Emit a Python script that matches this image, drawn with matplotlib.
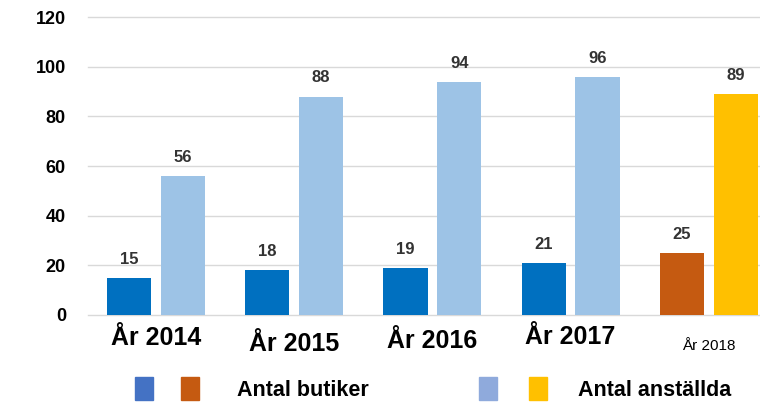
import numpy as np
import matplotlib.pyplot as plt
from matplotlib.patches import Rectangle

plt.rcParams['font.family'] = ['Liberation Sans', 'DejaVu Sans']

# Data
years = ['År 2014', 'År 2015', 'År 2016', 'År 2017', 'År 2018']
butiker = [15, 18, 19, 21, 25]
anstallda = [56, 88, 94, 96, 89]
yticks = [0, 20, 40, 60, 80, 100, 120]

# colours: 2014-2017 in blue, 2018 in orange/yellow
col_but = ['#0070C0'] * 4 + ['#C55A11']
col_ans = ['#9DC3E6'] * 4 + ['#FFC000']

fig = plt.figure(figsize=(7.6, 4.08), dpi=100)
ax = fig.add_axes([0.116, 0.228, 0.884, 0.730])

x = np.arange(len(years))
w = 0.32
off = 0.195
b1 = ax.bar(x - off, butiker, w, color=col_but, zorder=3)
b2 = ax.bar(x + off, anstallda, w, color=col_ans, zorder=3)

for bars, vals in ((b1, butiker), (b2, anstallda)):
    for r, v in zip(bars, vals):
        ax.annotate(str(v), (r.get_x() + r.get_width() / 2, v),
                    xytext=(0, 8), textcoords='offset points',
                    ha='center', va='bottom', fontsize=12, fontweight='bold',
                    color='#333333')

ax.set_xlim(-0.49, 4.37)
ax.set_ylim(0, 120)
ax.set_yticks(yticks)
ax.set_yticklabels([str(t) for t in yticks], fontsize=13, fontweight='bold')
ax.tick_params(axis='y', length=0, pad=16)
ax.tick_params(axis='x', length=0, labelbottom=False)
ax.grid(axis='y', color='#D9D9D9', lw=1, zorder=0)
for g in ax.get_ygridlines():
    g.set_clip_on(False)
for s in ax.spines.values():
    s.set_visible(False)

# staggered category labels (offsets in pixels below the axis)
drops = [23, 29, 26, 22, 31]
for i, (lab, d) in enumerate(zip(years, drops)):
    small = i == len(years) - 1
    ax.annotate(lab, (x[i], 0), xytext=(0, -d * 0.72), textcoords='offset points',
                ha='center', va='center',
                fontsize=11 if small else 18, fontweight='normal' if small else 'bold')

# legend
H = 408.0
W = 760.0
def patch(x0, color):
    fig.add_artist(Rectangle((x0 / W, 1 - 400 / H), 18 / W, 23 / H,
                             transform=fig.transFigure, color=color))

patch(135, '#4472C4')
patch(181, '#C55A11')
patch(479, '#8FAADC')
patch(529, '#FFC000')
fig.text(237 / W, 1 - 390 / H, 'Antal butiker', fontsize=15.5, fontweight='bold', va='center')
fig.text(578 / W, 1 - 390 / H, 'Antal anställda', fontsize=15.5, fontweight='bold', va='center')

fig.savefig('out.png', dpi=100)
